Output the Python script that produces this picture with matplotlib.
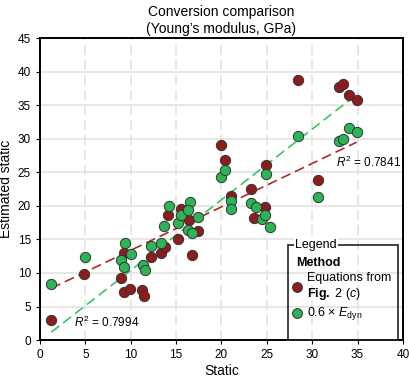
import numpy as np
import matplotlib
matplotlib.use("Agg")
import matplotlib.pyplot as plt
from matplotlib.patches import Rectangle

plt.rcParams['font.family'] = ['Liberation Sans', 'DejaVu Sans']
plt.rcParams['mathtext.fontset'] = 'custom'
plt.rcParams['mathtext.rm'] = 'Liberation Sans'
plt.rcParams['mathtext.it'] = 'Liberation Sans:italic'
plt.rcParams['mathtext.bf'] = 'Liberation Sans:bold'

# Equations from Fig. 2 (c)
eq_x = [1.25, 4.9, 8.9, 9.3, 9.3, 9.9, 11.2, 11.5, 12.2, 13.3, 13.8, 14.1, 15.5,
        16.4, 17.4, 15.2, 16.8, 21.1, 23.3, 24.8, 23.6, 30.6, 24.9, 19.9, 20.4,
        28.4, 33.0, 33.4, 34.1, 34.9]
eq_y = [3.0, 9.8, 9.2, 7.2, 13.0, 7.6, 7.5, 6.6, 12.4, 13.0, 13.9, 18.6, 19.6,
        17.9, 16.3, 15.0, 12.7, 21.4, 22.5, 19.9, 18.2, 23.8, 26.1, 29.0, 26.9,
        38.7, 37.7, 38.2, 36.5, 35.8]

# 0.6 x E_dyn
dyn_x = [1.25, 5.0, 9.4, 8.9, 9.3, 10.0, 11.3, 11.6, 12.2, 13.3, 13.7, 14.2,
         15.2, 15.5, 16.5, 16.3, 16.3, 16.8, 17.4, 21.1, 21.1, 23.3, 23.8, 24.5,
         24.8, 25.3, 30.6, 19.9, 20.4, 24.9, 28.4, 33.0, 33.4, 34.1, 34.9]
dyn_y = [8.3, 12.4, 14.4, 12.0, 10.9, 12.8, 11.2, 10.5, 14.0, 14.5, 17.0, 20.0,
         17.5, 18.6, 20.5, 19.4, 16.4, 16.0, 18.4, 20.7, 19.5, 20.4, 19.8, 18.1,
         18.7, 16.9, 21.3, 24.3, 25.3, 24.7, 30.4, 29.7, 30.0, 31.6, 31.0]

r2_eq = 0.7841
r2_dyn = 0.7994

red = '#8E1C1C'
green = '#2DB457'
red_line = '#B02A2A'
green_line = '#3FC463'

fig = plt.figure(figsize=(4.10, 3.77), dpi=100)
ax = fig.add_axes([0.0976, 0.098, 0.885, 0.801])

ax.set_xlim(0, 40)
ax.set_ylim(0, 45)
ax.set_xticks(np.arange(0, 41, 5))
ax.set_yticks(np.arange(0, 46, 5))
ax.grid(axis='y', color='#e3e3e3', lw=1.2, ls='-')
ax.grid(axis='x', color='#e3e3e3', lw=1.2, ls=(0, (6, 3)))
ax.set_axisbelow(True)
for s in ax.spines.values():
    s.set_linewidth(1.4)
ax.tick_params(labelsize=8.5, length=3, width=0.8)

# fitted trend lines (the source swaps the line colours: the steep fit is green)
for xs, ys, c in [(eq_x, eq_y, green_line), (dyn_x, dyn_y, red_line)]:
    k, b = np.polyfit(xs, ys, 1)
    xx = np.array([min(xs), max(xs)])
    ax.plot(xx, k * xx + b, color=c, lw=1.2, ls=(0, (6, 3)), zorder=2)

ax.scatter(eq_x, eq_y, s=55, color=red, edgecolor='#333333', lw=0.7, zorder=3)
ax.scatter(dyn_x, dyn_y, s=55, color=green, edgecolor='#333333', lw=0.7, zorder=4)

ax.text(39.8, 26.4, f'$R^2$ = {r2_eq}', ha='right', va='center', fontsize=8.5)
ax.text(3.7, 2.6, f'$R^2$ = {r2_dyn}', ha='left', va='center', fontsize=8.5)

ax.set_title('Conversion comparison\n(Young\u2019s modulus, GPa)', fontsize=10, pad=4)
ax.set_xlabel('Static', fontsize=10, labelpad=2)
ax.set_ylabel('Estimated static', fontsize=10)
ax.yaxis.set_label_coords(-0.074, 0.5)

# legend box drawn by hand (title sits in the top border)
bx, by, bw, bh = 0.683, 0.0, 0.303, 0.315
ax.add_patch(Rectangle((bx, by), bw, bh, transform=ax.transAxes, fill=False,
                       ec='#222222', lw=1.2, zorder=6, clip_on=False))
ax.text(bx + 0.02, by + bh, 'Legend', transform=ax.transAxes, fontsize=9,
        va='center', ha='left', zorder=7,
        bbox=dict(boxstyle='square,pad=0.1', fc='white', ec='none'))
ax.text(bx + 0.022, 0.255, 'Method', transform=ax.transAxes,
        fontsize=9, fontweight='bold', va='center', zorder=7)
ax.scatter([bx + 0.025], [0.175], s=50, color=red, edgecolor='#333333',
           lw=0.7, transform=ax.transAxes, zorder=7, clip_on=False)
ax.text(bx + 0.053, 0.175, 'Equations from\n$\\mathbf{Fig.}$ 2 ($c$)',
        transform=ax.transAxes, fontsize=9, va='center', linespacing=1.2, zorder=7)
ax.scatter([bx + 0.025], [0.089], s=50, color=green, edgecolor='#333333',
           lw=0.7, transform=ax.transAxes, zorder=7, clip_on=False)
ax.text(bx + 0.053, 0.089, '0.6 $\\times$ $E_{\\mathrm{dyn}}$',
        transform=ax.transAxes, fontsize=9, va='center', zorder=7)

fig.savefig('out.png', dpi=100)
